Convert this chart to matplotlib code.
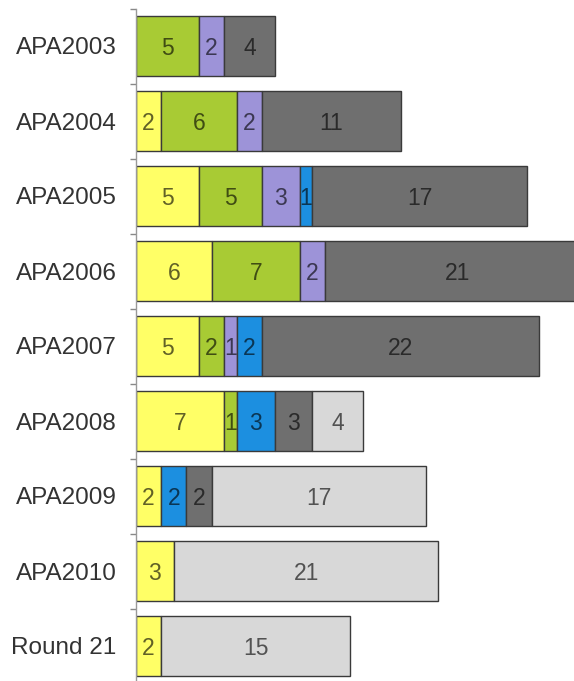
import matplotlib.pyplot as plt
import numpy as np
from matplotlib.ticker import FixedLocator

categories = ["APA2003", "APA2004", "APA2005", "APA2006", "APA2007",
              "APA2008", "APA2009", "APA2010", "Round 21"]

yellow = [0, 2, 5, 6, 5, 7, 2, 3, 2]
green = [5, 6, 5, 7, 2, 1, 0, 0, 0]
purple = [2, 2, 3, 2, 1, 0, 0, 0, 0]
blue = [0, 0, 1, 0, 2, 3, 2, 0, 0]
dark_grey = [4, 11, 17, 21, 22, 3, 2, 0, 0]
light_grey = [0, 0, 0, 0, 0, 4, 17, 21, 15]

series = [yellow, green, purple, blue, dark_grey, light_grey]
colors = ["#FFFF66", "#A8CB34", "#9D93D8", "#1C8FE0", "#6F6F6F", "#D8D8D8"]

plt.rcParams["font.family"] = ["Liberation Sans", "DejaVu Sans"]

fig = plt.figure(figsize=(5.74, 6.81), dpi=100)
W, H = 574, 681
ax = fig.add_axes([136 / W, -2.5 / H, (W - 136) / W, 675 / H])

y = np.arange(len(categories))
left = np.zeros(len(categories))
for values, color in zip(series, colors):
    vals = np.array(values, dtype=float)
    mask = vals > 0
    ax.barh(y[mask], vals[mask], left=left[mask], height=0.79,
            color=color, edgecolor="#3a3a3a", linewidth=1.0)
    for yi, v, l in zip(y[mask], vals[mask], left[mask]):
        ax.text(l + v / 2, yi, f"{int(v)}", ha="center", va="center_baseline",
                fontsize=16.5, color="black", alpha=0.62)
    left += vals

ax.set_xlim(0, (W - 136) / 12.6)
ax.set_ylim(len(categories) - 0.5, -0.5)

ax.set_yticks(y)
ax.set_yticklabels(categories, fontsize=17.5, color="#333333")
ax.tick_params(axis="y", which="major", length=0, pad=14)
ax.yaxis.set_minor_locator(FixedLocator(np.arange(-0.5, len(categories), 1.0)))
ax.tick_params(axis="y", which="minor", length=4, color="#888888", width=1)
ax.set_xticks([])

for side in ["top", "right", "bottom"]:
    ax.spines[side].set_visible(False)
ax.spines["left"].set_color("#999999")
ax.spines["left"].set_linewidth(1)

fig.savefig("out.png", dpi=100)
